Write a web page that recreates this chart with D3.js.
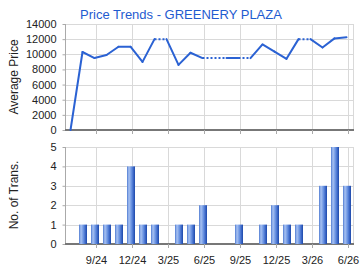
<!DOCTYPE html>
<html lang="en">
<head>
    <meta charset="UTF-8">
    <title>Price Trends - GREENERY PLAZA</title>
    <script src="https://cdn.jsdelivr.net/npm/d3@7"></script>
    <style>
        body { margin: 0; background: #fff; }
        svg { font-family: "Liberation Sans", Arial, sans-serif; }
        .axis text { fill: #222; font-size: 11px; }
        .grid line { stroke: #d9d9d9; }
    </style>
</head>
<body>
    <svg width="360" height="270" id="chart"></svg>
    <script>
        // months from 7/24 to 6/26, index 1 = 7/24
        const months = ["7/24", "8/24", "9/24", "10/24", "11/24", "12/24", "1/25", "2/25", "3/25",
            "4/25", "5/25", "6/25", "7/25", "8/25", "9/25", "10/25", "11/25", "12/25",
            "1/26", "2/26", "3/26", "4/26", "5/26", "6/26"];
        const prices = [0, 10300, 9500, 9900, 11000, 11000, 9000, 12000, null,
            8600, 10200, 9500, null, null, 9500, null, 11300, 10350,
            9400, 12000, null, 10900, 12100, 12250];
        const trans = [0, 1, 1, 1, 1, 4, 1, 1, 0,
            1, 1, 2, 0, 0, 1, 0, 1, 2,
            1, 1, 0, 3, 5, 3];
        const tickLabels = ["9/24", "12/24", "3/25", "6/25", "9/25", "12/25", "3/26", "6/26"];
        const priceTicks = [0, 2000, 4000, 6000, 8000, 10000, 12000, 14000];
        const transTicks = [0, 1, 2, 3, 4, 5];

        const svg = d3.select('#chart');
        const left = 65, right = 353;

        // month index: 0 = 6/24
        const x = d3.scaleLinear().domain([0, 24]).range([60, 348]);
        const monthIndex = label => months.indexOf(label) + 1;
        const tickIdx = tickLabels.map(monthIndex);

        const yP = d3.scaleLinear().domain([0, 14000]).range([130, 24]);
        const yT = d3.scaleLinear().domain([0, 5]).range([244, 147]);

        // gradient for bars
        const grad = svg.append('defs').append('linearGradient')
            .attr('id', 'barGrad').attr('x1', '0%').attr('x2', '100%');
        [["0%", "#4f7bd2"], ["25%", "#a8c2f2"], ["55%", "#6b94e2"], ["80%", "#3c68c8"], ["100%", "#1d48a8"]]
            .forEach(s => grad.append('stop').attr('offset', s[0]).attr('stop-color', s[1]));

        svg.append('text')
            .attr('x', 181).attr('y', 19)
            .attr('text-anchor', 'middle')
            .attr('fill', '#1f5bd0')
            .attr('font-size', '13px')
            .text('Price Trends - GREENERY PLAZA');

        function panel(y, ticks, bottom, top, labels) {
            const g = svg.append('g');
            // horizontal grid
            g.append('g').attr('class', 'grid')
                .selectAll('line').data(ticks).enter().append('line')
                .attr('x1', left).attr('x2', right)
                .attr('y1', d => Math.round(y(d)) + 0.5).attr('y2', d => Math.round(y(d)) + 0.5);
            // vertical grid
            g.append('g').attr('class', 'grid')
                .selectAll('line').data(tickIdx).enter().append('line')
                .attr('x1', d => Math.round(x(d)) + 0.5).attr('x2', d => Math.round(x(d)) + 0.5)
                .attr('y1', top).attr('y2', bottom);
            g.append('line').attr('class', 'grid')
                .attr('x1', right + 0.5).attr('x2', right + 0.5).attr('y1', top).attr('y2', bottom)
                .attr('stroke', '#d9d9d9');

            const ya = g.append('g').attr('class', 'axis')
                .attr('transform', 'translate(' + (left + 0.5) + ',0)')
                .call(d3.axisLeft(y).tickValues(ticks).tickSize(3).tickPadding(6).tickFormat(d3.format('d')));
            ya.selectAll('line, path').attr('stroke', '#aaa');
            ya.select('.domain').attr('d', 'M0,' + bottom + 'V' + top);

            const xa = g.append('g').attr('class', 'axis')
                .attr('transform', 'translate(0,' + bottom + ')')
                .call(d3.axisBottom(x).tickValues(tickIdx).tickSize(4).tickPadding(8)
                    .tickFormat((d, i) => labels ? tickLabels[i] : ''));
            xa.selectAll('.tick line').attr('stroke', '#aaa');
            xa.select('.domain').attr('d', 'M' + left + ',0H' + (right + 1))
                .attr('stroke', '#777').attr('stroke-width', 2);
            return g;
        }

        panel(yP, priceTicks, 130, 24, false);
        panel(yT, transTicks, 244, 147, true);

        // axis titles
        svg.append('text')
            .attr('transform', 'translate(18,77) rotate(-90)')
            .attr('text-anchor', 'middle').attr('font-size', '12px').attr('fill', '#222')
            .text('Average Price');
        svg.append('text')
            .attr('transform', 'translate(18,195) rotate(-90)')
            .attr('text-anchor', 'middle').attr('font-size', '12px').attr('fill', '#222')
            .text('No. of Trans.');

        // price line: missing months carry the previous value, drawn dotted
        let filled = [];
        let last = null;
        prices.forEach((p, i) => {
            if (p !== null) last = p;
            filled.push({ m: i + 1, v: last, missing: p === null });
        });
        const line = d3.line().x(d => x(d.m) - 1.5).y(d => yP(d.v));
        for (let i = 0; i < filled.length - 1; i++) {
            const seg = [filled[i], filled[i + 1]];
            const dotted = filled[i + 1].missing;
            svg.append('path')
                .datum(seg)
                .attr('d', line)
                .attr('fill', 'none')
                .attr('stroke', '#2b62d3')
                .attr('stroke-width', 2)
                .attr('stroke-linecap', dotted ? 'butt' : 'round')
                .attr('stroke-dasharray', dotted ? '2,2' : null);
        }

        // transaction bars
        const barW = 8;
        svg.selectAll('rect.bar')
            .data(trans.map((t, i) => ({ m: i + 1, v: t })).filter(d => d.v > 0))
            .enter()
            .append('rect')
            .attr('class', 'bar')
            .attr('x', d => x(d.m) - 1 - barW / 2)
            .attr('width', barW)
            .attr('y', d => yT(d.v))
            .attr('height', d => yT(0) - yT(d.v))
            .attr('fill', 'url(#barGrad)');
    </script>
</body>
</html>
